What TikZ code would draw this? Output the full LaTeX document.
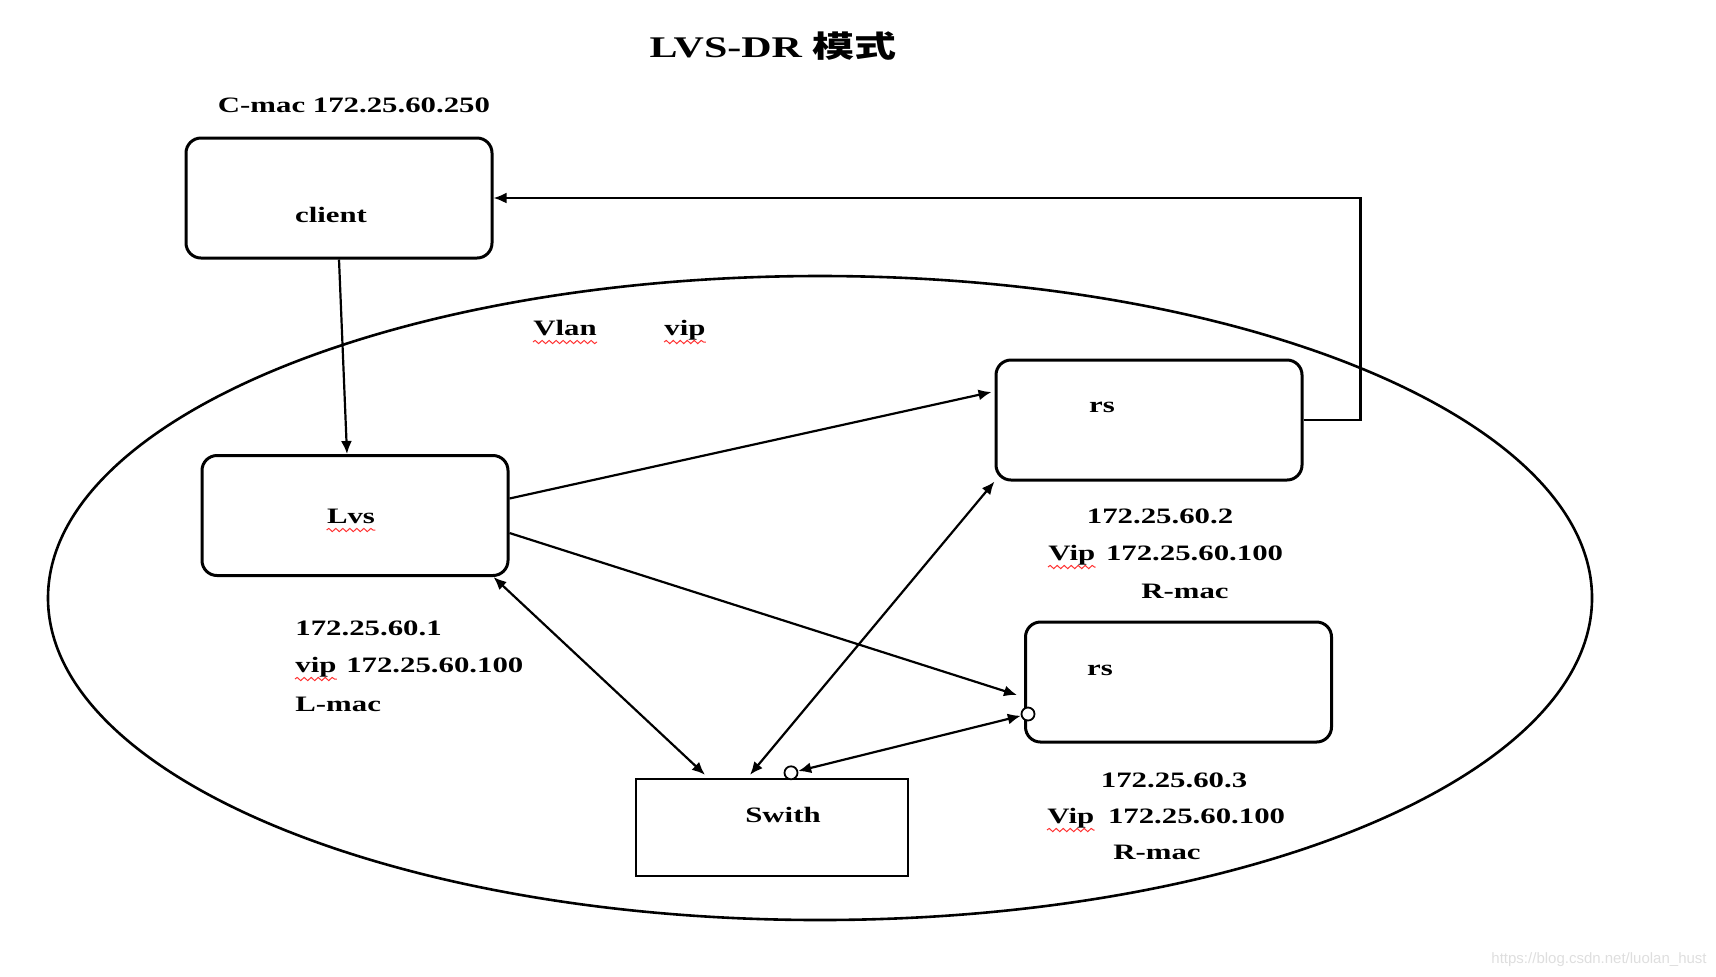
\documentclass[tikz,border=0pt]{standalone}
\usepackage{fontspec}
\setmainfont{Liberation Serif}[FakeStretch=1.4]
\newfontfamily\cjk{Noto Sans CJK SC}[FakeStretch=1.4]
\newfontfamily\markfont{Liberation Sans}
\usetikzlibrary{arrows.meta,decorations.pathmorphing}

\begin{document}
\begin{tikzpicture}[x=0.5pt,y=-0.5pt,color=black,
  >={Latex[length=6.5pt,width=5.5pt]},
  host/.style={draw,rounded corners=7.5pt,line width=1.5pt,minimum width=153pt,minimum height=60pt},
  swbox/.style={draw,line width=1.2pt,minimum width=136pt,minimum height=48.5pt},
  txt/.style={inner sep=0pt,font=\fontsize{11}{13}\selectfont\bfseries},
  link/.style={line width=1.1pt,->},
  both/.style={line width=1.1pt,<->},
  port/.style={circle,draw,fill=white,line width=0.9pt,inner sep=0pt,minimum size=6.5pt},
  typo/.style={draw=red!80,line width=0.5pt,decorate,decoration={snake,amplitude=0.8pt,segment length=3.5pt}}]
\useasboundingbox (0,0) rectangle (1716,976);

\node[txt,font=\fontsize{15}{18}\selectfont\bfseries,anchor=base] (title) at (773,57) {LVS-DR {\cjk 模式}};

% the vlan
\draw[line width=1.3pt] (820,598) ellipse [x radius=386pt,y radius=161pt];

% boxes
\node[host] (client) at (339,198) {};
\node[host] (Lvs) at (355,515.5) {};
\node[host] (rs1) at (1149,420) {};
\node[host] (rs2) at (1178.5,682) {};
\node[swbox] (Swith) at (772,827.5) {};

% texts
\node[txt,anchor=base] (cmac) at (354,112) {C-mac 172.25.60.250};
\node[txt,anchor=base] (clientname) at (331,222) {client};
\node[txt,anchor=base] (vlan) at (565,335) {Vlan};
\node[txt,anchor=base] (vip) at (685,335) {vip};
\node[txt,anchor=base] (lvsname) at (351,523) {Lvs};
\node[txt,anchor=base west] (lvsip) at (295,635) {172.25.60.1};
\node[txt,anchor=base west] (lvsvip) at (295,672) {vip};
\node[txt,anchor=base west] (lvsvipaddr) at ([xshift=4.5pt]lvsvip.base east) {172.25.60.100};
\node[txt,anchor=base west] (lvsmac) at (295,711) {L-mac};
\node[txt,anchor=base] (rs1name) at (1102,412) {rs};
\node[txt,anchor=base] (rs1ip) at (1160,523) {172.25.60.2};
\node[txt,anchor=base west] (rs1vip) at (1048,560) {Vip};
\node[txt,anchor=base west] (rs1vipaddr) at ([xshift=5pt]rs1vip.base east) {172.25.60.100};
\node[txt,anchor=base] (rs1mac) at (1185,598) {R-mac};
\node[txt,anchor=base] (rs2name) at (1100,675) {rs};
\node[txt,anchor=base] (rs2ip) at (1174,787) {172.25.60.3};
\node[txt,anchor=base west] (rs2vip) at (1047,823) {Vip};
\node[txt,anchor=base west] (rs2vipaddr) at ([xshift=6.5pt]rs2vip.base east) {172.25.60.100};
\node[txt,anchor=base] (rs2mac) at (1157,859) {R-mac};
\node[txt,anchor=base] (swname) at (783,822) {Swith};

\foreach \w in {vlan,vip,lvsname,lvsvip,rs1vip,rs2vip}
  \draw[typo] ([yshift=-3.5pt]\w.base west) -- ([yshift=-3.5pt]\w.base east);

% links
\draw[link] (client.south) -- ([xshift=-4pt]Lvs.north);
\draw[link] ([yshift=8.5pt]Lvs.east) -- ([xshift=-1.5pt,yshift=14pt]rs1.west);
\draw[link] ([yshift=-8.75pt]Lvs.east) -- ([xshift=-3.5pt,yshift=-6.5pt]rs2.west);
\draw[both] ([xshift=-8pt]Lvs.south east) -- ([xshift=-33.5pt,yshift=1.5pt]Swith.north);
\draw[both] ([xshift=-11pt,yshift=1.5pt]Swith.north) -- (rs1.south west);
\node[port] (swport) at ([xshift=9.5pt,yshift=2.5pt]Swith.north) {};
\node[port] (rsport) at ([xshift=2pt,yshift=-16pt]rs2.west) {};
\draw[both] (swport) -- (rsport);
\draw[link] (rs1.east) -- ++(57,0) |- (client.east);

\node[anchor=base east,inner sep=0pt,text=black!13,font=\markfont\fontsize{7.5}{9}\selectfont] (mark) at (1707,963) {https://blog.csdn.net/luolan\_hust};
\end{tikzpicture}
\end{document}
